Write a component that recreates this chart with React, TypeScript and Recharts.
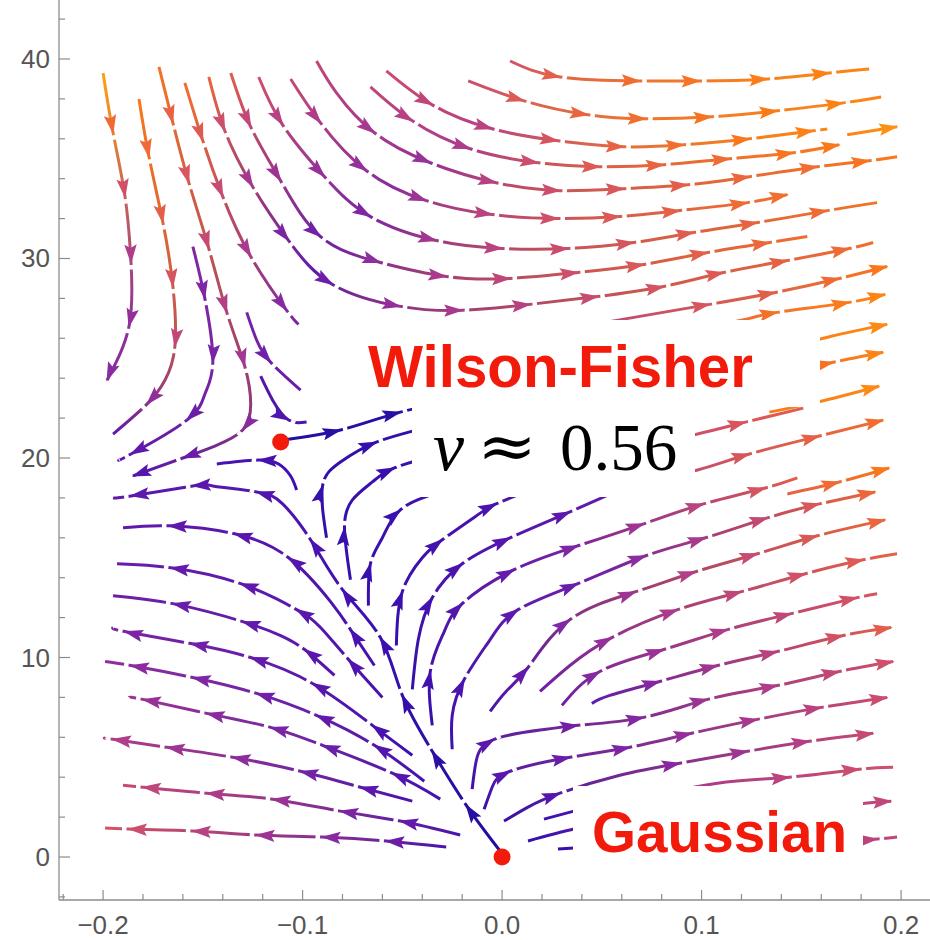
import { ComposedChart, Line, Scatter, XAxis, YAxis } from "recharts";

// each point: [x, y, arrowhead at this point (1) or not (0)]
type Pt = [number, number, number];
// v = flow speed at start (/ middle) / end, p = streamline points
interface Flow {
  v: number[];
  p: Pt[];
}

const xTicks = [-0.22, -0.2, -0.18, -0.16, -0.14, -0.12, -0.1, -0.08, -0.06, -0.04, -0.02, 0, 0.02, 0.04, 0.06, 0.08, 0.1, 0.12, 0.14, 0.16, 0.18, 0.2];
const xMajor = [-0.2, -0.1, 0, 0.1, 0.2];
const yTicks = [-2, 0, 2, 4, 6, 8, 10, 12, 14, 16, 18, 20, 22, 24, 26, 28, 30, 32, 34, 36, 38, 40, 42];
const yMajor = [0, 10, 20, 30, 40];

const fixedPoints = [
  { x: 0, y: 0 },
  { x: -0.111, y: 20.8 },
];

const topDown: Flow[] = [
  { v: [1.0, 0.45], p: [[-0.2, 39.3, 0], [-0.195, 36.3, 1], [-0.189, 33.1, 1], [-0.186, 29.8, 1], [-0.187, 26.6, 1], [-0.198, 23.9, 1]] },
  { v: [0.92, 0.3], p: [[-0.182, 38.0, 0], [-0.177, 35.1, 1], [-0.17, 31.8, 1], [-0.165, 28.6, 1], [-0.164, 25.6, 1], [-0.169, 23.9, 0], [-0.178, 22.7, 1], [-0.195, 21.2, 0]] },
  { v: [0.9, 0.25], p: [[-0.172, 39.6, 0], [-0.165, 36.8, 1], [-0.157, 33.8, 1], [-0.147, 30.5, 1], [-0.138, 27.3, 1], [-0.129, 24.6, 1], [-0.126, 22.7, 0], [-0.13, 21.4, 1], [-0.144, 20.6, 0], [-0.16, 20.0, 1], [-0.185, 19.1, 1]] },
  { v: [0.42, 0.28], p: [[-0.155, 30.6, 0], [-0.149, 28.0, 1], [-0.145, 24.8, 1], [-0.149, 23.2, 0], [-0.158, 21.9, 1], [-0.186, 20.2, 1], [-0.192, 19.9, 0]] },
  { v: [0.88, 0.4], p: [[-0.159, 38.8, 0], [-0.15, 35.9, 1], [-0.14, 33.1, 1], [-0.126, 30.1, 1], [-0.108, 27.4, 1], [-0.102, 26.7, 0]] },
  { v: [0.38, 0.33], p: [[-0.128, 27.3, 0], [-0.123, 25.9, 0], [-0.116, 24.8, 1], [-0.101, 23.4, 0]] },
  { v: [0.25, 0.22], p: [[-0.121, 24.1, 0], [-0.115, 22.9, 0], [-0.107, 21.9, 1], [-0.098, 21.8, 0]] },
];

const topArcs: Flow[] = [
  { v: [0.72, 0.95], p: [[0.004, 39.9, 0], [0.029, 39.1, 1], [0.069, 38.9, 1], [0.099, 38.9, 1], [0.133, 39.0, 1], [0.164, 39.3, 1], [0.184, 39.5, 0]] },
  { v: [0.7, 0.95], p: [[-0.017, 38.9, 0], [0.011, 37.9, 1], [0.043, 37.2, 1], [0.072, 37.0, 1], [0.105, 37.1, 1], [0.138, 37.4, 1], [0.171, 37.8, 1], [0.19, 38.1, 0]] },
  { v: [0.7, 0.62, 0.95], p: [[-0.058, 39.4, 0], [-0.035, 37.7, 1], [-0.005, 36.5, 1], [0.028, 35.9, 1], [0.061, 35.6, 1], [0.091, 35.7, 1], [0.124, 36.0, 1], [0.156, 36.4, 1], [0.163, 36.5, 0]] },
  { v: [0.95, 0.97], p: [[0.173, 36.2, 0], [0.198, 36.6, 1]] },
  { v: [0.66, 0.58, 0.92], p: [[-0.066, 38.6, 0], [-0.045, 36.9, 1], [-0.016, 35.5, 1], [0.018, 34.8, 1], [0.049, 34.6, 1], [0.081, 34.7, 1], [0.114, 35.0, 1], [0.146, 35.3, 1], [0.169, 35.7, 1]] },
  { v: [0.66, 0.5, 0.92], p: [[-0.093, 39.9, 0], [-0.083, 38.3, 0], [-0.064, 36.3, 1], [-0.036, 34.8, 1], [-0.003, 33.8, 1], [0.029, 33.4, 1], [0.061, 33.5, 1], [0.093, 33.7, 1], [0.124, 34.1, 1], [0.158, 34.6, 1], [0.184, 34.9, 1], [0.198, 35.1, 0]] },
  { v: [0.68, 0.45, 0.88], p: [[-0.106, 39.0, 0], [-0.091, 36.8, 1], [-0.068, 34.4, 1], [-0.038, 32.9, 1], [-0.005, 32.2, 1], [0.028, 32.0, 1], [0.059, 32.1, 1], [0.089, 32.4, 1], [0.123, 32.8, 1], [0.143, 33.2, 1]] },
  { v: [0.72, 0.4, 0.9], p: [[-0.122, 39.1, 0], [-0.11, 36.7, 1], [-0.089, 34.1, 1], [-0.066, 32.1, 1], [-0.033, 30.9, 1], [0.0, 30.5, 1], [0.033, 30.5, 1], [0.066, 30.8, 1], [0.096, 31.3, 1], [0.128, 31.8, 1], [0.163, 32.4, 1], [0.188, 32.8, 0]] },
  { v: [0.8, 0.35, 0.88], p: [[-0.136, 39.3, 0], [-0.126, 36.6, 1], [-0.111, 33.9, 1], [-0.091, 31.1, 1], [-0.061, 29.8, 1], [-0.028, 29.1, 1], [0.004, 29.0, 1], [0.038, 29.3, 1], [0.071, 29.7, 1], [0.103, 30.3, 1], [0.134, 30.8, 1], [0.153, 31.1, 0]] },
  { v: [0.85, 0.3, 0.88], p: [[-0.147, 39.1, 0], [-0.139, 36.4, 1], [-0.125, 33.6, 1], [-0.107, 30.9, 1], [-0.085, 28.7, 1], [-0.051, 27.6, 1], [-0.02, 27.4, 1], [0.014, 27.7, 1], [0.048, 28.1, 1], [0.081, 28.6, 1], [0.111, 29.3, 1], [0.143, 29.9, 1], [0.174, 30.5, 1], [0.186, 30.8, 0]] },
];

const rightEdge: Flow[] = [
  { v: [0.62, 0.92], p: [[0.029, 26.4, 0], [0.069, 27.1, 0], [0.104, 27.7, 1], [0.137, 28.3, 1], [0.169, 29.0, 1], [0.193, 29.6, 1]] },
  { v: [0.85, 0.95], p: [[0.099, 26.5, 0], [0.124, 27.0, 0], [0.138, 27.3, 1], [0.174, 27.8, 1], [0.192, 28.2, 1]] },
  { v: [0.93, 0.96], p: [[0.139, 25.4, 0], [0.165, 26.1, 0], [0.193, 26.7, 1]] },
  { v: [0.85, 0.95], p: [[0.139, 24.2, 0], [0.166, 24.8, 1], [0.191, 25.3, 1]] },
  { v: [0.93, 0.96], p: [[0.134, 22.3, 0], [0.158, 22.8, 0], [0.189, 23.6, 1]] },
  { v: [0.68, 0.8], p: [[0.074, 20.7, 0], [0.098, 21.2, 0], [0.122, 21.8, 1], [0.151, 22.5, 0]] },
  { v: [0.66, 0.88], p: [[0.074, 18.9, 0], [0.098, 19.4, 0], [0.124, 20.2, 1], [0.159, 21.1, 1], [0.191, 21.9, 1]] },
  { v: [0.82, 0.92], p: [[0.143, 18.2, 0], [0.169, 18.8, 1], [0.194, 19.5, 1]] },
  { v: [0.5, 0.72], p: [[0.069, 2.9, 0], [0.108, 3.7, 0], [0.144, 4.0, 1], [0.179, 4.4, 1], [0.196, 4.5, 0]] },
  { v: [0.62, 0.66], p: [[0.159, 2.4, 0], [0.182, 2.7, 0], [0.195, 2.8, 1]] },
  { v: [0.6, 0.66], p: [[0.159, 0.7, 0], [0.188, 0.9, 1], [0.198, 1.0, 0]] },
  { v: [0.12, 0.3], p: [[0.013, 0.8, 0], [0.036, 1.4, 0], [0.059, 1.8, 0]] },
  { v: [0.15, 0.3], p: [[0.021, 1.9, 0], [0.036, 2.3, 0], [0.059, 2.9, 0]] },
  { v: [0.1, 0.3], p: [[0.028, 0.4, 0], [0.036, 0.45, 0], [0.059, 0.6, 0]] },
];

const centerUp: Flow[] = [
  { v: [0.03, 0.08], p: [[-0.11, 20.9, 0], [-0.081, 21.4, 1], [-0.051, 22.3, 1], [-0.021, 22.9, 0]] },
  { v: [0.12, 0.1], p: [[-0.088, 16.0, 0], [-0.09, 18.6, 1], [-0.081, 19.8, 0], [-0.063, 20.8, 1], [-0.031, 21.7, 0]] },
  { v: [0.12, 0.14], p: [[-0.076, 13.9, 0], [-0.079, 16.5, 1], [-0.075, 17.9, 0], [-0.065, 18.8, 0], [-0.054, 19.5, 1], [-0.031, 20.2, 0]] },
  { v: [0.12, 0.16], p: [[-0.067, 12.6, 0], [-0.066, 14.7, 1], [-0.06, 16.0, 0], [-0.051, 17.4, 1], [-0.031, 18.3, 0]] },
  { v: [0.12, 0.22], p: [[-0.053, 10.6, 0], [-0.05, 13.3, 1], [-0.04, 15.0, 0], [-0.03, 15.9, 1], [-0.01, 17.3, 0], [-0.003, 17.7, 1], [0.014, 18.4, 0]] },
  { v: [0.12, 0.32], p: [[-0.045, 8.4, 0], [-0.042, 10.9, 0], [-0.035, 13.0, 1], [-0.02, 14.7, 1], [0.004, 16.0, 1], [0.034, 17.3, 1], [0.059, 18.4, 0]] },
];

const rightFan: Flow[] = [
  { v: [0.12, 0.35, 0.8], p: [[-0.035, 6.6, 0], [-0.036, 9.3, 1], [-0.029, 11.3, 0], [-0.02, 12.7, 1], [0.006, 14.4, 1], [0.038, 15.6, 1], [0.071, 16.7, 1], [0.101, 17.7, 1], [0.132, 18.5, 1], [0.148, 19.0, 0]] },
  { v: [0.15, 0.35, 0.85], p: [[-0.025, 5.4, 0], [-0.025, 7.1, 0], [-0.019, 8.9, 1], [-0.006, 10.9, 0], [0.008, 12.4, 1], [0.038, 13.7, 1], [0.072, 15.1, 1], [0.102, 16.0, 1], [0.133, 17.0, 1], [0.159, 17.7, 1], [0.187, 18.3, 1]] },
  { v: [0.2, 0.85], p: [[-0.006, 7.3, 0], [0.002, 8.3, 0], [0.013, 9.5, 1], [0.034, 11.9, 1], [0.067, 13.3, 1], [0.097, 14.3, 1], [0.128, 15.2, 1], [0.158, 16.1, 1], [0.192, 16.9, 1]] },
  { v: [0.35, 0.82], p: [[0.019, 8.3, 0], [0.034, 9.6, 0], [0.055, 11.0, 1], [0.088, 12.4, 1], [0.12, 13.3, 1], [0.152, 14.2, 1], [0.181, 14.9, 1], [0.198, 15.2, 0]] },
  { v: [0.35, 0.75], p: [[0.03, 7.6, 0], [0.049, 9.3, 1], [0.081, 10.4, 1], [0.113, 11.4, 1], [0.145, 12.2, 1], [0.178, 13.0, 1], [0.188, 13.2, 0]] },
  { v: [0.3, 0.8], p: [[0.045, 7.7, 0], [0.054, 8.1, 0], [0.079, 8.8, 1], [0.108, 9.6, 1], [0.138, 10.3, 1], [0.171, 11.1, 1], [0.195, 11.5, 1]] },
  { v: [0.15, 0.72], p: [[-0.015, 3.4, 0], [-0.013, 4.8, 0], [-0.004, 5.9, 1], [0.022, 6.4, 0], [0.038, 6.6, 1], [0.071, 7.0, 1], [0.103, 7.9, 1], [0.138, 8.6, 1], [0.169, 9.3, 1], [0.196, 9.8, 1]] },
  { v: [0.15, 0.7], p: [[-0.009, 2.4, 0], [-0.005, 3.5, 0], [0.004, 4.3, 1], [0.034, 5.0, 1], [0.064, 5.5, 1], [0.095, 6.2, 1], [0.128, 6.9, 1], [0.16, 7.5, 1], [0.193, 8.0, 1]] },
  { v: [0.12, 0.68], p: [[0.001, 1.8, 0], [0.013, 2.5, 0], [0.029, 3.2, 1], [0.059, 4.1, 0], [0.089, 4.7, 1], [0.123, 5.3, 1], [0.154, 5.8, 1], [0.186, 6.2, 1]] },
];

const leftFan: Flow[] = [
  { v: [0.02, 0.15, 0.3], p: [[-0.001, 0.3, 0], [-0.018, 2.6, 1], [-0.035, 5.3, 1], [-0.05, 8.1, 1], [-0.061, 11.0, 1], [-0.08, 13.4, 1], [-0.096, 15.9, 1], [-0.11, 17.7, 0], [-0.123, 18.3, 1], [-0.145, 18.6, 0], [-0.155, 18.6, 1], [-0.186, 18.1, 1], [-0.195, 18.0, 0]] },
  { v: [0.15, 0.2], p: [[-0.103, 18.4, 0], [-0.106, 19.1, 0], [-0.112, 19.7, 0], [-0.122, 19.9, 1], [-0.143, 19.7, 0]] },
  { v: [0.18, 0.3], p: [[-0.064, 9.6, 0], [-0.076, 11.4, 1], [-0.086, 12.8, 0], [-0.107, 15.0, 1], [-0.134, 16.2, 1], [-0.167, 16.6, 1], [-0.19, 16.5, 0]] },
  { v: [0.2, 0.33], p: [[-0.06, 8.0, 0], [-0.077, 9.9, 1], [-0.091, 11.5, 0], [-0.103, 12.4, 1], [-0.131, 13.7, 1], [-0.166, 14.5, 1], [-0.193, 14.7, 0]] },
  { v: [0.25, 0.35], p: [[-0.084, 9.1, 0], [-0.099, 10.4, 1], [-0.111, 11.1, 0], [-0.13, 11.8, 1], [-0.165, 12.7, 1], [-0.195, 13.1, 0]] },
  { v: [0.15, 0.4], p: [[-0.045, 5.1, 0], [-0.065, 6.6, 1], [-0.095, 8.7, 1], [-0.126, 10.0, 1], [-0.156, 10.7, 1], [-0.189, 11.3, 1], [-0.195, 11.5, 0]] },
  { v: [0.18, 0.47], p: [[-0.039, 3.8, 0], [-0.064, 5.6, 1], [-0.093, 7.1, 1], [-0.123, 8.2, 1], [-0.155, 9.0, 1], [-0.186, 9.6, 1], [-0.199, 9.8, 0]] },
  { v: [0.18, 0.52], p: [[-0.031, 2.9, 0], [-0.055, 4.2, 1], [-0.09, 5.6, 1], [-0.116, 6.5, 1], [-0.148, 7.2, 1], [-0.18, 7.9, 1], [-0.187, 8.0, 0]] },
  { v: [0.2, 0.6], p: [[-0.045, 2.8, 0], [-0.071, 3.5, 1], [-0.101, 4.3, 1], [-0.135, 5.0, 1], [-0.168, 5.5, 1], [-0.195, 5.9, 1], [-0.199, 5.95, 0]] },
  { v: [0.2, 0.68], p: [[-0.021, 1.1, 0], [-0.051, 1.8, 1], [-0.081, 2.3, 1], [-0.115, 2.9, 1], [-0.148, 3.2, 1], [-0.18, 3.5, 1], [-0.19, 3.6, 0]] },
  { v: [0.2, 0.74], p: [[-0.028, 0.5, 0], [-0.058, 0.8, 1], [-0.09, 1.0, 1], [-0.123, 1.1, 1], [-0.155, 1.3, 1], [-0.187, 1.4, 1], [-0.199, 1.45, 0]] },
];

const flows: Flow[] = [...topDown, ...topArcs, ...rightEdge, ...centerUp, ...rightFan, ...leftFan];

const W = 930;
const H = 940;
const LEFT = 59;
const BOTTOM = 40;
const X0 = -0.2221;
const X1 = 0.2145;
const Y0 = -2.155;
const Y1 = 42.957;
const KX = (W - LEFT) / (X1 - X0);
const KY = (H - BOTTOM) / (Y1 - Y0);

const AXIS = "#8c8c8c";
const LABEL = "#555555";
const RED = "#f21a0a";
const SANS = "'Liberation Sans', Arial, Helvetica, sans-serif";
const SERIF = "'Liberation Serif', 'Times New Roman', serif";

const palette: [number, string][] = [
  [0, "#1c0e9e"],
  [0.15, "#3d10b0"],
  [0.3, "#6019ac"],
  [0.45, "#8a2ba0"],
  [0.6, "#b13e88"],
  [0.72, "#cf506a"],
  [0.84, "#ea6440"],
  [0.93, "#fb7a18"],
  [1, "#ffa010"],
];

const hex = (c: string) => [1, 3, 5].map((i) => parseInt(c.slice(i, i + 2), 16));

function speedColor(t: number) {
  const s = Math.max(0, Math.min(1, t));
  let i = 0;
  while (i < palette.length - 2 && s > palette[i + 1][0]) i++;
  const [a, ca] = palette[i];
  const [b, cb] = palette[i + 1];
  const f = (s - a) / (b - a);
  const A = hex(ca);
  const B = hex(cb);
  const rgb = A.map((v, k) => Math.round(v + (B[k] - v) * f));
  return `rgb(${rgb[0]},${rgb[1]},${rgb[2]})`;
}

// gradient along the line, in its bounding box, and the position of a point on it
function gradGeom(f: Flow) {
  const xs = f.p.map((q) => q[0]);
  const ys = f.p.map((q) => q[1]);
  const minX = Math.min(...xs), maxX = Math.max(...xs);
  const minY = Math.min(...ys), maxY = Math.max(...ys);
  const fx = (v: number) => (maxX - minX > 1e-9 ? (v - minX) / (maxX - minX) : 0.5);
  const fy = (v: number) => (maxY - minY > 1e-9 ? (maxY - v) / (maxY - minY) : 0.5);
  const s = f.p[0];
  const e = f.p[f.p.length - 1];
  const g = { x1: fx(s[0]), y1: fy(s[1]), x2: fx(e[0]), y2: fy(e[1]) };
  const frac = (q: Pt) => {
    const dx = g.x2 - g.x1;
    const dy = g.y2 - g.y1;
    const l2 = dx * dx + dy * dy || 1;
    const t = ((fx(q[0]) - g.x1) * dx + (fy(q[1]) - g.y1) * dy) / l2;
    return Math.max(0, Math.min(1, t));
  };
  return { g, frac };
}

function speedAt(f: Flow, t: number) {
  const n = f.v.length;
  if (n === 1) return f.v[0];
  const pos = t * (n - 1);
  const i = Math.min(n - 2, Math.floor(pos));
  return f.v[i] + (f.v[i + 1] - f.v[i]) * (pos - i);
}

const unit = (dx: number, dy: number) => {
  const l = Math.hypot(dx, dy) || 1;
  return [dx / l, dy / l];
};

const arrowDot = (f: Flow, gi: number) => (props: any) => {
  const { cx, cy, index } = props;
  const key = `ar-${gi}-${index}`;
  const q = f.p[index];
  if (!q || q[2] !== 1 || cx == null || cy == null) return <g key={key} />;
  const prev = f.p[index - 1] ?? q;
  const next = f.p[index + 1];
  let [ux, uy] = unit((q[0] - prev[0]) * KX, -(q[1] - prev[1]) * KY);
  if (next) {
    const [vx, vy] = unit((next[0] - q[0]) * KX, -(next[1] - q[1]) * KY);
    [ux, uy] = unit(ux + vx, uy + vy);
  }
  const nx = -uy;
  const ny = ux;
  const L = 18;
  const hw = 6.2;
  const bx = cx - ux * L;
  const by = cy - uy * L;
  const kx = cx - ux * (L - 3.5);
  const ky = cy - uy * (L - 3.5);
  const color = speedColor(speedAt(f, gradGeom(f).frac(q)));
  const d = `M${cx + ux * 1.5},${cy + uy * 1.5} L${bx + nx * hw},${by + ny * hw} L${kx},${ky} L${bx - nx * hw},${by - ny * hw} Z`;
  return (
    <g key={key}>
      {next && (
        <line x1={cx + ux * 2.5} y1={cy + uy * 2.5} x2={cx + ux * 7} y2={cy + uy * 7} stroke="#ffffff" strokeWidth={5} />
      )}
      <path d={d} fill={color} />
    </g>
  );
};

const isMajor = (arr: number[], v: number) => arr.some((m) => Math.abs(m - v) < 1e-6);
const fmtX = (v: number) => (v < -1e-9 ? "\u2212" : "") + Math.abs(v).toFixed(1);

const XTick = (props: any) => {
  const { x, y, payload } = props;
  const major = isMajor(xMajor, payload.value);
  return (
    <g>
      <line x1={x} x2={x} y1={y} y2={y - (major ? 10 : 6)} stroke={AXIS} strokeWidth={1.2} />
      {major && (
        <text x={x} y={y + 34} textAnchor="middle" fontSize={26} fontFamily={SANS} fill={LABEL}>
          {fmtX(payload.value)}
        </text>
      )}
    </g>
  );
};

const YTick = (props: any) => {
  const { x, y, payload } = props;
  const major = isMajor(yMajor, payload.value);
  return (
    <g>
      <line x1={x} x2={x + (major ? 11 : 6)} y1={y} y2={y} stroke={AXIS} strokeWidth={1.2} />
      {major && (
        <text x={x - 9} y={y + 9} textAnchor="end" fontSize={26} fontFamily={SANS} fill={LABEL}>
          {payload.value}
        </text>
      )}
    </g>
  );
};

export default function App() {
  return (
    <div style={{ position: "absolute", left: 0, top: 0, width: W, height: H, background: "#fff" }}>
      <ComposedChart width={W} height={H} margin={{ top: 0, right: 0, bottom: 0, left: 0 }}>
        <defs>
          {flows.map((f, i) => {
            const { g } = gradGeom(f);
            const n = f.v.length;
            return (
              <linearGradient key={i} id={`fg${i}`} x1={g.x1} y1={g.y1} x2={g.x2} y2={g.y2}>
                {f.v.map((s, k) => (
                  <stop key={k} offset={n === 1 ? 0 : k / (n - 1)} stopColor={speedColor(s)} />
                ))}
              </linearGradient>
            );
          })}
        </defs>
        <XAxis
          type="number"
          dataKey="x"
          domain={[X0, X1]}
          allowDataOverflow
          ticks={xTicks}
          interval={0}
          tick={XTick}
          tickLine={false}
          tickSize={0}
          tickMargin={0}
          height={BOTTOM}
          axisLine={{ stroke: AXIS, strokeWidth: 1.3 }}
        />
        <YAxis
          type="number"
          dataKey="y"
          domain={[Y0, Y1]}
          allowDataOverflow
          ticks={yTicks}
          interval={0}
          tick={YTick}
          tickLine={false}
          tickSize={0}
          tickMargin={0}
          width={LEFT}
          axisLine={{ stroke: AXIS, strokeWidth: 1.3 }}
        />
        {flows.map((f, i) => (
          <Line
            key={`fl${i}`}
            data={f.p.map(([x, y, a]) => ({ x, y, a }))}
            dataKey="y"
            type="natural"
            stroke={`url(#fg${i})`}
            strokeWidth={3}
            dot={arrowDot(f, i)}
            activeDot={false}
            legendType="none"
            isAnimationActive={false}
          />
        ))}
        <Scatter
          data={fixedPoints}
          dataKey="y"
          isAnimationActive={false}
          shape={(p: any) => <circle cx={p.cx} cy={p.cy} r={8.5} fill={RED} />}
        />
      </ComposedChart>
      <svg width={W} height={H} style={{ position: "absolute", left: 0, top: 0, pointerEvents: "none" }}>
        <rect x={358} y={320} width={462} height={87} fill="#fff" />
        <rect x={412} y={405} width={283} height={92} fill="#fff" />
        <rect x={573} y={786} width={290} height={84} fill="#fff" />
        <text x={368} y={387} fontFamily={SANS} fontWeight="bold" fontSize={60} fill={RED} textLength={385} lengthAdjust="spacingAndGlyphs">
          Wilson-Fisher
        </text>
        <text x={433} y={470} fontFamily={SERIF} fontStyle="italic" fontSize={70} fill="#000">
          ν
        </text>
        <text x={477} y={468} fontFamily="'DejaVu Serif', serif" fontSize={64} fill="#000" textLength={60} lengthAdjust="spacingAndGlyphs">
          ≈
        </text>
        <text x={560} y={470} fontFamily={SERIF} fontSize={67} fill="#000">
          0.56
        </text>
        <text x={592} y={852} fontFamily={SANS} fontWeight="bold" fontSize={58} fill={RED} textLength={255} lengthAdjust="spacingAndGlyphs">
          Gaussian
        </text>
      </svg>
    </div>
  );
}
